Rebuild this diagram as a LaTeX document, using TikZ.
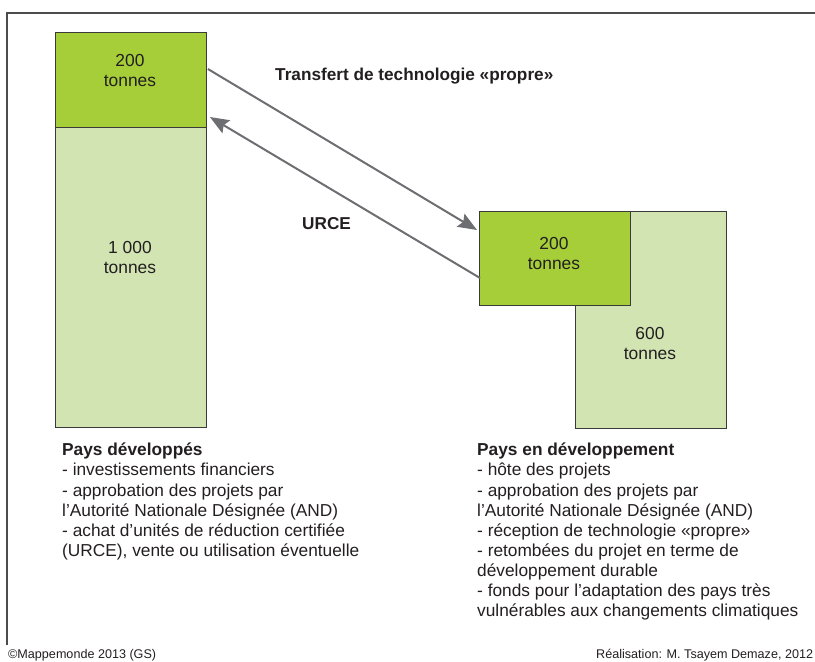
\documentclass[tikz,border=0pt]{standalone}
\usepackage{fontspec}
\setmainfont{Liberation Sans}
\usetikzlibrary{arrows.meta}
\definecolor{dkgreen}{HTML}{A6CE39}
\definecolor{ltgreen}{HTML}{D1E4B2}
\definecolor{arrgray}{HTML}{6D6E71}
\definecolor{txt}{HTML}{231F20}
\definecolor{edge}{HTML}{3A3A3A}
\tikzset{
  dkbox/.style={draw=edge, line width=0.9pt, fill=dkgreen, inner sep=0pt, anchor=north west},
  ltbox/.style={draw=edge, line width=0.9pt, fill=ltgreen, inner sep=0pt, anchor=north west},
  boxlabel/.style={align=center, text=txt, font=\fontsize{17.4}{20}\selectfont, inner sep=0pt},
  arr/.style={draw=arrgray, line width=2pt, -{Stealth[length=19pt,width=15pt,inset=3pt]}},
  frameline/.style={draw=black!70, line width=1.5pt},
  desc/.style={align=left, text=txt, font=\fontsize{17.3}{20.1}\selectfont, anchor=north west, inner sep=0pt},
  lbl/.style={text=txt, font=\fontsize{17.2}{20}\selectfont\bfseries, inner sep=0pt},
  foot/.style={text=txt, font=\fontsize{12.6}{15}\selectfont, inner sep=0pt}
}
\begin{document}
\begin{tikzpicture}[x=1pt,y=-1pt]
\useasboundingbox (0,0) rectangle (815,662);
\draw[frameline] (815,13) -- (7,13) -- (7,645);
% left column
\node[ltbox, minimum width=151pt, minimum height=300pt] (llight) at (55,127) {};
\node[dkbox, minimum width=151pt, minimum height=95pt] (ldark) at (55,32) {};
\node[boxlabel] (ldarklbl) at (130,70.5) {200\\tonnes};
\node[boxlabel] (llightlbl) at (130,257.5) {1 000\\tonnes};
% right column
\node[ltbox, minimum width=151pt, minimum height=217pt] (rlight) at (575,211) {};
\node[dkbox, minimum width=151pt, minimum height=94pt] (rdark) at (479,211) {};
\node[boxlabel] (rdarklbl) at (554,253.5) {200\\tonnes};
\node[boxlabel] (rlightlbl) at (650,343.5) {600\\tonnes};
% arrows
\draw[arr] ([shift={(1,37)}]ldark.north east) -- ([shift={(-2,19)}]rdark.north west);
\draw[arr] ([shift={(1,67)}]rdark.north west) -- ([shift={(3,85)}]ldark.north east);
\node[lbl, anchor=west] (transfert) at (275,76) {Transfert de technologie «propre»};
\node[lbl, anchor=west] (urce) at (302,223.5) {URCE};
% descriptions
\node[desc] (ldesc) at (62,443) {\textbf{Pays développés}\\
- investissements financiers\\
- approbation des projets par\\
l’Autorité Nationale Désignée (AND)\\
- achat d’unités de réduction certifiée\\
(URCE), vente ou utilisation éventuelle};
\node[desc] (rdesc) at (477,443) {\textbf{Pays en développement}\\
- hôte des projets\\
- approbation des projets par\\
l’Autorité Nationale Désignée (AND)\\
- réception de technologie «propre»\\
- retombées du projet en terme de\\
développement durable\\
- fonds pour l’adaptation des pays très\\
vulnérables aux changements climatiques};
% footer
\node[foot, anchor=west] (copy) at (8,655) {©Mappemonde 2013 (GS)};
\node[foot, anchor=west] (real) at (596,655) {Réalisation: M. Tsayem Demaze, 2012};
\end{tikzpicture}
\end{document}
